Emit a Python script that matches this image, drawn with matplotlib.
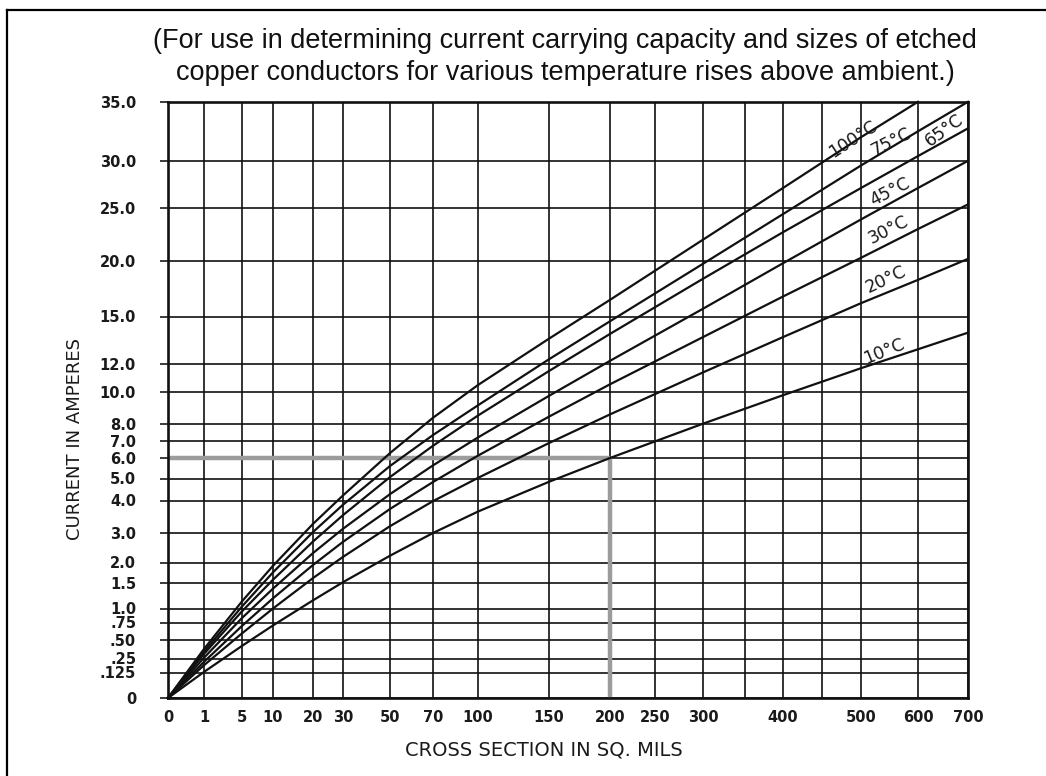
import numpy as np
import matplotlib
matplotlib.use("Agg")
import matplotlib.pyplot as plt
from matplotlib.lines import Line2D

# Axis ticks of the chart (both axes are hand-spaced, not linear or log)
X_TICKS = [0, 1, 5, 10, 20, 30, 50, 70, 100, 150, 200, 250, 300, 350, 400, 450, 500, 600, 700]
X_LABELS = ["0", "1", "5", "10", "20", "30", "50", "70", "100", "150", "200", "250", "300",
            "", "400", "", "500", "600", "700"]
Y_TICKS = [0, 0.125, 0.25, 0.5, 0.75, 1.0, 1.5, 2.0, 3.0, 4.0, 5.0, 6.0, 7.0, 8.0,
           10.0, 12.0, 15.0, 20.0, 25.0, 30.0, 35.0]
Y_LABELS = ["0", ".125", ".25", ".50", ".75", "1.0", "1.5", "2.0", "3.0", "4.0", "5.0", "6.0",
            "7.0", "8.0", "10.0", "12.0", "15.0", "20.0", "25.0", "30.0", "35.0"]

# Where each tick sits on the sheet (pixels) - defines the custom scales
X_PIX = [168, 204, 242, 273, 313, 343, 390, 433, 478, 549, 610, 655, 703, 745, 783, 822, 861, 918, 968]
Y_PIX = [698, 672.5, 658.5, 639.5, 622.5, 608.5, 583, 562.5, 533, 500.5, 478.5, 458, 441, 424,
         392, 364, 316.5, 261, 207.7, 160.8, 101.8]

# Curves: cross section (sq. mils) -> current (A)
AREA = [0, 1, 5, 10, 20, 30, 50, 70, 100, 150, 200, 300, 400, 500, 600, 700]
RISE_10 = [0, 0.13, 0.416, 0.707, 1.16, 1.52, 2.23, 3.0, 3.66, 4.85, 6.0, 8.02, 9.8, 11.7, 12.93, 13.98]
RISE_20 = [0, 0.19, 0.59, 1.00, 1.62, 2.19, 3.21, 3.98, 5.03, 6.88, 8.60, 11.4, 13.7, 16.2, 18.3, 20.2]
RISE_30 = [0, 0.22, 0.70, 1.20, 1.94, 2.70, 3.74, 4.84, 6.14, 8.46, 10.55, 13.7, 16.8, 20.3, 23.0, 25.35]
RISE_45 = [0, 0.26, 0.83, 1.39, 2.32, 3.13, 4.29, 5.64, 7.21, 9.76, 12.2, 15.7, 19.8, 23.9, 27.1, 30.0]
RISE_65 = [0, 0.31, 0.95, 1.58, 2.71, 3.55, 5.07, 6.72, 8.53, 11.5, 13.9, 18.4, 22.7, 27.1, 30.4, 32.75]
RISE_75 = [0, 0.34, 1.04, 1.76, 3.03, 3.87, 5.61, 7.35, 9.17, 12.3, 14.7, 19.75, 24.4, 29.5, 32.5, 35.0]
AREA_100 = [0, 1, 5, 10, 20, 30, 50, 70, 100, 150, 200, 300, 400, 500, 600]
RISE_100 = [0, 0.375, 1.14, 1.92, 3.28, 4.23, 6.29, 8.39, 10.5, 13.6, 16.5, 22.0, 27.1, 32.0, 35.0]

# Worked example drawn in grey: 200 sq. mils -> 6 A
EXAMPLE_AREA = 200
EXAMPLE_AMPS = 6.0

TITLE_1 = "(For use in determining current carrying capacity and sizes of etched"
TITLE_2 = "copper conductors for various temperature rises above ambient.)"


def make_scale(ticks, pix):
    pos = np.abs(np.array(pix, dtype=float) - pix[0])

    def forward(v):
        return np.interp(v, ticks, pos)

    def inverse(p):
        return np.interp(p, pos, ticks)
    return forward, inverse


def plot_chart():
    fig = plt.figure(figsize=(10.46, 7.76), dpi=100)
    W, H = 1046.0, 776.0
    ax = fig.add_axes([168 / W, 1 - 698 / H, (968 - 168) / W, (698 - 101.8) / H])

    ax.set_xscale("function", functions=make_scale(X_TICKS, X_PIX))
    ax.set_yscale("function", functions=make_scale(Y_TICKS, Y_PIX))
    ax.set_xlim(0, 700)
    ax.set_ylim(0, 35)

    ax.set_xticks(X_TICKS)
    ax.set_xticklabels(X_LABELS)
    ax.set_yticks(Y_TICKS)
    ax.set_yticklabels(Y_LABELS)
    ax.minorticks_off()
    ax.grid(True, color="#111111", linewidth=1.2, zorder=1)
    ax.set_axisbelow(True)
    ax.tick_params(axis="x", length=0, pad=9, labelsize=10.5, colors="#1a1a1a")
    ax.tick_params(axis="y", length=6, width=1.2, direction="out", pad=17,
                   labelsize=10.5, colors="#1a1a1a")
    for lab in ax.get_xticklabels() + ax.get_yticklabels():
        lab.set_fontweight("bold")
    for s in ax.spines.values():
        s.set_linewidth(1.9)
        s.set_color("#111111")

    # grey worked example
    ax.plot([0, EXAMPLE_AREA], [EXAMPLE_AMPS, EXAMPLE_AMPS], color="#9c9c9c", linewidth=3.2,
            solid_capstyle="butt", zorder=2)
    ax.plot([EXAMPLE_AREA, EXAMPLE_AREA], [0, EXAMPLE_AMPS], color="#9c9c9c", linewidth=3.2,
            solid_capstyle="butt", zorder=2)

    curves = [(AREA, RISE_10), (AREA, RISE_20), (AREA, RISE_30), (AREA, RISE_45),
              (AREA, RISE_65), (AREA, RISE_75), (AREA_100, RISE_100)]
    for xs, ys in curves:
        ax.plot(xs, ys, color="#111111", linewidth=1.6, zorder=3, clip_on=False)

    # curve labels, lettered along the lines
    labels = [("100°C", 490, 31.8, 33), ("75°C", 553, 31.6, 27), ("65°C", 653, 32.6, 36),
              ("45°C", 550, 26.7, 27), ("30°C", 548, 22.9, 27), ("20°C", 543, 18.3, 25),
              ("10°C", 540, 12.8, 22)]
    for txt, x, y, rot in labels:
        ax.text(x, y, txt, rotation=rot, ha="center", va="center", fontsize=12.5,
                color="#1a1a1a", zorder=4)

    fig.text(565 / W, 1 - 41 / H, TITLE_1, ha="center", va="center", fontsize=19.5,
             family="Liberation Sans", color="#111111")
    fig.text(565 / W, 1 - 73 / H, TITLE_2, ha="center", va="center", fontsize=19.5,
             family="Liberation Sans", color="#111111")
    fig.text(75 / W, 1 - 439 / H, "CURRENT IN AMPERES", rotation=90, ha="center",
             va="center", fontsize=13, color="#1a1a1a")
    fig.text(544 / W, 1 - 750 / H, "CROSS SECTION IN SQ. MILS", ha="center",
             va="center", fontsize=14, color="#1a1a1a")

    # scanned page frame (only left and top edges are visible)
    fig.add_artist(Line2D([7 / W, 7 / W], [0, 1 - 10 / H], color="black", linewidth=1.6))
    fig.add_artist(Line2D([7 / W, 1], [1 - 10 / H, 1 - 10 / H], color="black", linewidth=1.6))

    fig.savefig("out.png", dpi=100)


if __name__ == "__main__":
    plot_chart()
